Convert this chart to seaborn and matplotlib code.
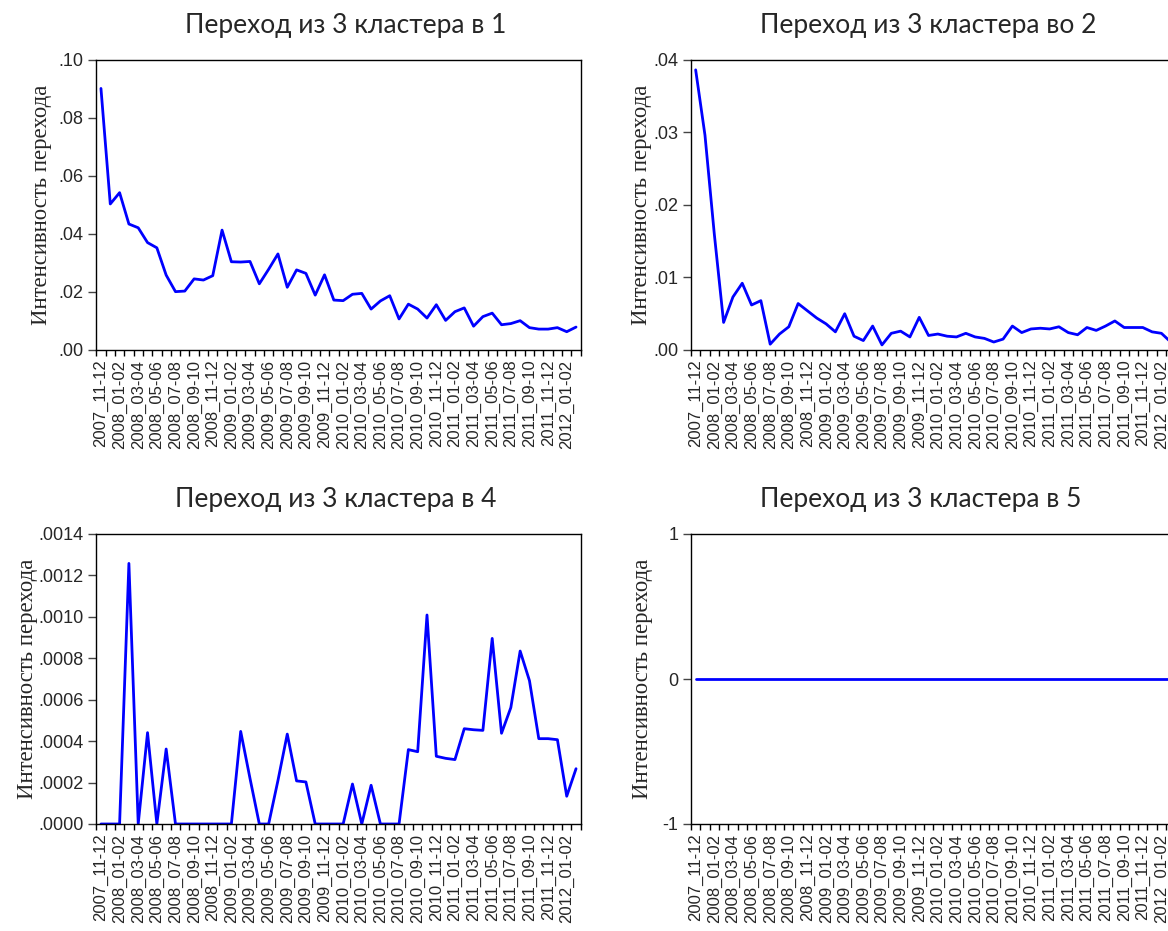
import numpy as np
import matplotlib
matplotlib.use("Agg")
import matplotlib.pyplot as plt
from matplotlib.ticker import FixedLocator, FuncFormatter
import seaborn as sns

# Observation labels shown under every second tick
tick_labels = [
    "2007_11-12",
    "2008_01-02", "2008_03-04", "2008_05-06", "2008_07-08", "2008_09-10", "2008_11-12",
    "2009_01-02", "2009_03-04", "2009_05-06", "2009_07-08", "2009_09-10", "2009_11-12",
    "2010_01-02", "2010_03-04", "2010_05-06", "2010_07-08", "2010_09-10", "2010_11-12",
    "2011_01-02", "2011_03-04", "2011_05-06", "2011_07-08", "2011_09-10", "2011_11-12",
    "2012_01-02",
]

# Transition intensities from cluster 3
to_1 = [
    0.0901, 0.0503, 0.0542, 0.0434, 0.0421, 0.0370, 0.0352, 0.0258, 0.0201, 0.0203,
    0.0245, 0.0241, 0.0256, 0.0413, 0.0304, 0.0303, 0.0305, 0.0228, 0.0278, 0.0331,
    0.0216, 0.0276, 0.0264, 0.0189, 0.0259, 0.0172, 0.0170, 0.0192, 0.0195, 0.0141,
    0.0169, 0.0187, 0.0107, 0.0158, 0.0141, 0.0110, 0.0156, 0.0102, 0.0132, 0.0145,
    0.0082, 0.0115, 0.0127, 0.0087, 0.0091, 0.0101, 0.0077, 0.0072, 0.0072, 0.0077,
    0.0063, 0.0079,
]
to_2 = [
    0.0386, 0.0296, 0.0160, 0.0038, 0.0073, 0.0092, 0.0062, 0.0068, 0.0008, 0.0022,
    0.0032, 0.0064, 0.0054, 0.0044, 0.0036, 0.0025, 0.0050, 0.0019, 0.0013, 0.0033,
    0.0007, 0.0023, 0.0026, 0.0018, 0.0045, 0.0020, 0.0022, 0.0019, 0.0018, 0.0023,
    0.0018, 0.0016, 0.0011, 0.0015, 0.0033, 0.0024, 0.0029, 0.0030, 0.0029, 0.0032,
    0.0024, 0.0021, 0.0031, 0.0027, 0.0033, 0.0040, 0.0031, 0.0031, 0.0031, 0.0025,
    0.0023, 0.0011,
]
to_4 = [
    0.0, 0.0, 0.0, 0.001258, 0.0, 0.000441, 0.0, 0.000362, 0.0, 0.0,
    0.0, 0.0, 0.0, 0.0, 0.0, 0.000447, 0.00022, 0.0, 0.0, 0.00021,
    0.000434, 0.000208, 0.000203, 0.0, 0.0, 0.0, 0.0, 0.000193, 0.0, 0.000187,
    0.0, 0.0, 0.0, 0.000359, 0.000349, 0.001009, 0.000327, 0.000317, 0.000311, 0.000460,
    0.000455, 0.000452, 0.000896, 0.000438, 0.000562, 0.000835, 0.000692, 0.000412, 0.000412, 0.000407,
    0.000134, 0.000267,
]
to_5 = [0.0] * 52

titles = [
    "Переход из 3 кластера в 1",
    "Переход из 3 кластера во 2",
    "Переход из 3 кластера в 4",
    "Переход из 3 кластера в 5",
]
ylabel = "Интенсивность перехода"

sns.set_style("white")
plt.rcParams["font.family"] = ["Liberation Sans", "DejaVu Sans"]

W, H = 1168, 931
fig = plt.figure(figsize=(W / 100, H / 100), dpi=100)


def px_axes(left, top, right, bottom):
    return fig.add_axes([left / W, 1 - bottom / H, (right - left) / W, (bottom - top) / H])


def strip_zero(decimals):
    def fmt(v, pos):
        s = f"{v:.{decimals}f}"
        if s.startswith("0."):
            s = s[1:]
        return s
    return fmt


panels = [
    dict(data=to_1, box=(96.3, 59.7, 580.7, 350.0), ylim=(0, 0.10), ticks=np.arange(0, 0.1001, 0.02),
         fmt=strip_zero(2), title_x=0.515, ylab_x=42),
    dict(data=to_2, box=(691.0, 59.7, 1175.4, 350.0), ylim=(0, 0.04), ticks=np.arange(0, 0.0401, 0.01),
         fmt=strip_zero(2), title_x=0.49, ylab_x=642),
    dict(data=to_4, box=(96.3, 534.0, 580.7, 824.0), ylim=(0, 0.0014), ticks=np.arange(0, 0.00141, 0.0002),
         fmt=strip_zero(4), title_x=0.495, ylab_x=28),
    dict(data=to_5, box=(691.0, 534.0, 1175.4, 824.0), ylim=(-1, 1), ticks=[-1, 0, 1],
         fmt=lambda v, p: f"{v:.0f}", title_x=0.475, ylab_x=643),
]

for p, title in zip(panels, titles):
    left, top, right, bottom = p["box"]
    ax = px_axes(left, top, right, bottom)
    values = np.asarray(p["data"])
    obs = np.arange(len(values))
    sns.lineplot(x=obs, y=values, ax=ax, color="#0000ff", linewidth=2.0)

    ax.set_xlim(-0.5, len(values) - 0.5)
    ax.set_ylim(*p["ylim"])

    # labelled positions every second observation, short ticks at observation boundaries
    ax.xaxis.set_major_locator(FixedLocator(obs[::2][: len(tick_labels)]))
    ax.set_xticklabels(tick_labels, rotation=90, fontsize=12, family=["Liberation Sans"])
    ax.xaxis.set_minor_locator(FixedLocator(np.arange(-0.5, len(values), 1.0)))
    ax.tick_params(axis="x", which="major", length=0, pad=7)
    ax.tick_params(axis="x", which="minor", direction="out", length=4.5, width=1.0, color="black",
                   bottom=True)

    ax.yaxis.set_major_locator(FixedLocator(p["ticks"]))
    ax.yaxis.set_major_formatter(FuncFormatter(p["fmt"]))
    ax.tick_params(axis="y", which="major", direction="out", length=6, width=1.0, color="#444444",
                   left=True, pad=3, labelsize=13)

    for side in ["top", "right", "bottom", "left"]:
        ax.spines[side].set_visible(True)
        ax.spines[side].set_color("black")
        ax.spines[side].set_linewidth(1.0)

    ax.set_xlabel("")
    ax.set_ylabel(ylabel, fontsize=16.4, family=["Liberation Serif", "DejaVu Serif"])
    ax.yaxis.label.set_va("center")
    ax.yaxis.set_label_coords((p["ylab_x"] - left) / (right - left), 0.5)

    ax.set_title(title, x=p["title_x"], y=1.119, pad=0, va="center", fontsize=19,
                 family=["Lato", "Roboto", "DejaVu Sans"])

fig.savefig("out.png", dpi=100, facecolor="white")
